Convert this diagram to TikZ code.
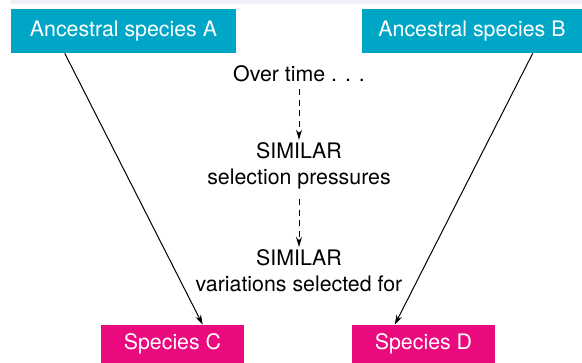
\documentclass[tikz,border=0pt]{standalone}
\usepackage{fontspec}
\setmainfont{TeX Gyre Heros}
\usepackage{xcolor}
\usetikzlibrary{positioning, arrows.meta, calc}
\definecolor{ancteal}{HTML}{00A6C6}
\definecolor{spmag}{HTML}{EA0A7E}
\definecolor{topband}{HTML}{EEF2F7}

\begin{document}
\begin{tikzpicture}[x=0.75pt, y=-0.75pt, >={Stealth[length=7.5pt,width=4.5pt]},
    font=\fontsize{16}{19.5}\selectfont,
    box/.style={inner sep=0pt, align=center, text=white, minimum height=33pt},
    anc/.style={box, fill=ancteal},
    spc/.style={box, fill=spmag, minimum width=107.25pt, minimum height=28.5pt},
    stage/.style={align=center, inner sep=2pt},
    evo/.style={->, line width=0.75pt},
    flow/.style={->, line width=0.75pt, dash pattern=on 4.5pt off 3.5pt}]

    \useasboundingbox (0,0) rectangle (582,362);
    \fill[topband] (11,0) rectangle (582,4);

    \node[anc, minimum width=168.75pt] (ancA) at (123.5,31) {Ancestral species A};
    \node[anc, minimum width=165pt]    (ancB) at (472,31)   {Ancestral species B};
    \node[spc] (spC) at (172.5,344) {Species C};
    \node[spc] (spD) at (423.5,344) {Species D};

    \node[stage] (time) at (299,74)  {Over time . . .};
    \node[stage] (sel)  at (299,166) {SIMILAR\\selection pressures};
    \node[stage] (var)  at (299,271) {SIMILAR\\variations selected for};

    % edges
    \draw[flow, shorten <=3pt] (time.south) -- (sel.north);
    \draw[flow, shorten <=5pt] (sel.south) -- (var.north);
    \draw[evo] ($(ancA.south west)+(54,0)$) -- ($(spC.north west)+(102,0)$);
    \draw[evo] ($(ancB.south west)+(171,0)$) -- ($(spD.north west)+(43,0)$);
\end{tikzpicture}
\end{document}
